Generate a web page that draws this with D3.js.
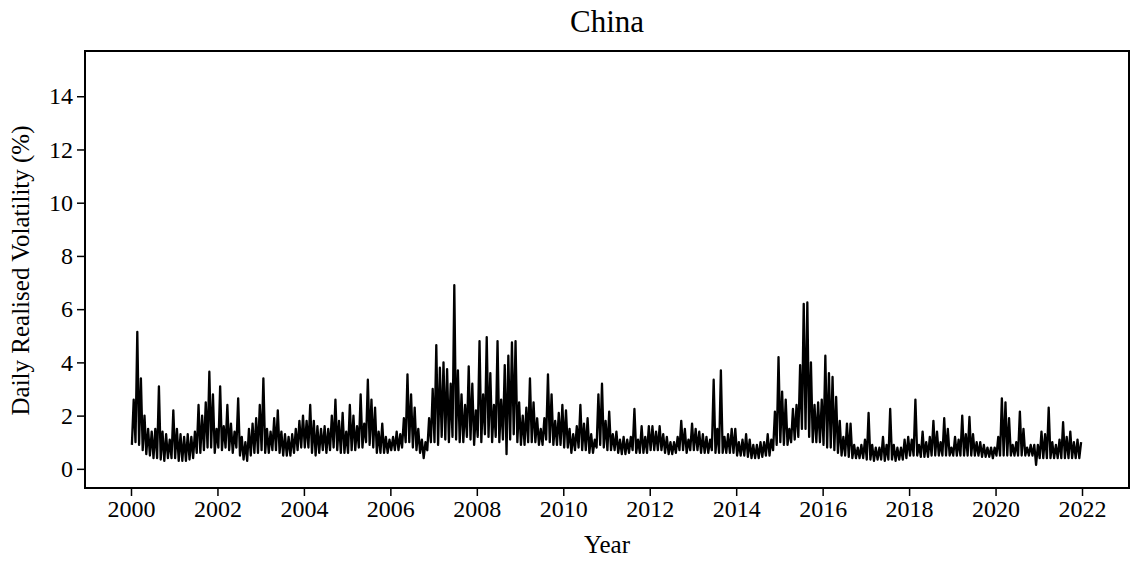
<!DOCTYPE html>
<html>
<head>
<meta charset="utf-8">
<script src="https://cdn.jsdelivr.net/npm/d3@7"></script>
<style>
  html, body { margin: 0; padding: 0; background: #fff; }
  svg text { font-family: "Liberation Serif", "Times New Roman", serif; fill: #000; }
</style>
</head>
<body>
<div id="chart"></div>
<script>
// Monthly highs / lows of the daily series (Jan..Dec per row)
var years = d3.range(2000, 2022);
var monthlyPeaks = [
  [2.6, 5.15, 3.4, 2.0, 1.5, 1.4, 1.5, 3.1, 1.4, 1.3, 1.1, 2.2],   // 2000
  [1.5, 1.3, 1.2, 1.3, 1.2, 1.4, 2.4, 2.0, 2.5, 3.65, 2.8, 1.5],   // 2001
  [3.1, 1.6, 2.4, 1.7, 1.4, 2.65, 1.2, 1.0, 1.5, 1.7, 1.9, 2.4],   // 2002
  [3.4, 1.5, 1.4, 1.9, 2.2, 1.4, 1.3, 1.2, 1.3, 1.5, 1.8, 2.0],    // 2003
  [1.8, 2.4, 1.8, 1.6, 1.5, 1.6, 1.5, 2.0, 2.6, 1.8, 2.1, 1.4],    // 2004
  [2.4, 2.0, 1.6, 2.8, 1.7, 3.35, 2.6, 2.3, 1.4, 1.7, 1.2, 1.1],   // 2005
  [1.2, 1.4, 1.3, 1.9, 3.55, 2.8, 2.3, 1.5, 1.1, 1.0, 1.9, 3.0],   // 2006
  [4.65, 3.8, 4.0, 3.75, 3.2, 6.9, 3.7, 2.8, 2.4, 3.85, 3.2, 2.2], // 2007
  [4.8, 2.8, 4.95, 3.6, 2.4, 4.8, 2.6, 3.9, 4.25, 4.75, 4.8, 2.5], // 2008
  [2.0, 2.3, 3.4, 2.5, 1.9, 1.5, 1.9, 3.55, 2.8, 1.8, 2.1, 2.4],   // 2009
  [2.2, 1.5, 1.3, 1.6, 2.4, 1.7, 1.9, 1.3, 1.1, 2.8, 3.2, 1.8],    // 2010
  [2.15, 1.3, 1.4, 1.1, 1.2, 1.1, 1.2, 2.25, 1.1, 1.6, 1.2, 1.6],  // 2011
  [1.6, 1.4, 1.6, 1.3, 1.2, 1.0, 1.0, 1.2, 1.8, 1.5, 1.1, 1.7],    // 2012
  [1.5, 1.4, 1.3, 1.2, 1.1, 3.35, 1.5, 3.7, 1.2, 1.3, 1.5, 1.5],   // 2013
  [1.0, 1.1, 1.3, 1.1, 0.9, 0.9, 1.0, 1.0, 1.3, 1.1, 2.15, 4.2],   // 2014
  [2.9, 2.6, 1.5, 2.25, 2.4, 3.9, 6.2, 6.25, 4.0, 2.4, 2.5, 2.6],  // 2015
  [4.25, 3.6, 3.45, 2.7, 1.8, 1.2, 1.7, 1.7, 0.9, 0.8, 0.9, 1.1],  // 2016
  [2.1, 0.9, 0.8, 0.8, 1.2, 0.9, 2.25, 0.9, 0.8, 0.8, 1.1, 1.2],   // 2017
  [1.1, 2.6, 0.9, 1.4, 1.0, 1.2, 1.8, 1.4, 1.0, 1.9, 1.5, 0.8],    // 2018
  [1.2, 1.1, 2.0, 1.3, 1.95, 1.3, 1.0, 1.0, 0.9, 0.8, 0.8, 0.8],   // 2019
  [1.2, 2.65, 2.5, 1.9, 0.9, 1.0, 2.15, 1.5, 0.8, 0.9, 0.9, 0.9],  // 2020
  [1.4, 1.3, 2.3, 1.0, 0.9, 1.1, 1.75, 1.2, 1.4, 1.0, 1.1, 1.0]    // 2021
];
var monthlyLows = [
  [0.9, 1.0, 0.9, 0.7, 0.55, 0.5, 0.4, 0.4, 0.35, 0.3, 0.4, 0.4],  // 2000
  [0.4, 0.3, 0.3, 0.3, 0.35, 0.4, 0.6, 0.6, 0.7, 0.8, 0.8, 0.6],   // 2001
  [0.8, 0.7, 0.8, 0.7, 0.6, 0.8, 0.5, 0.35, 0.3, 0.5, 0.6, 0.6],   // 2002
  [0.7, 0.6, 0.6, 0.7, 0.7, 0.6, 0.5, 0.5, 0.5, 0.6, 0.7, 0.8],    // 2003
  [0.8, 0.8, 0.6, 0.5, 0.6, 0.7, 0.6, 0.7, 0.8, 0.7, 0.6, 0.6],    // 2004
  [0.6, 0.7, 0.7, 0.8, 0.8, 1.0, 0.9, 0.8, 0.6, 0.6, 0.6, 0.6],    // 2005
  [0.7, 0.7, 0.7, 0.8, 1.0, 1.0, 0.8, 0.7, 0.6, 0.4, 0.7, 1.0],    // 2006
  [1.0, 0.9, 1.2, 1.1, 1.0, 1.2, 1.1, 1.0, 1.0, 1.2, 1.1, 0.9],    // 2007
  [1.2, 1.0, 1.3, 1.2, 1.0, 1.2, 1.0, 1.1, 0.55, 1.1, 1.3, 1.0],   // 2008
  [0.9, 0.9, 1.0, 1.0, 1.0, 0.9, 0.9, 1.1, 1.0, 0.9, 0.9, 0.9],    // 2009
  [0.8, 0.8, 0.6, 0.7, 0.8, 0.7, 0.7, 0.6, 0.6, 0.8, 0.9, 0.8],    // 2010
  [0.7, 0.7, 0.7, 0.6, 0.55, 0.55, 0.6, 0.7, 0.6, 0.6, 0.6, 0.6],  // 2011
  [0.7, 0.7, 0.7, 0.7, 0.6, 0.55, 0.55, 0.6, 0.7, 0.7, 0.6, 0.7],  // 2012
  [0.7, 0.7, 0.6, 0.6, 0.6, 0.7, 0.6, 0.6, 0.6, 0.6, 0.6, 0.6],    // 2013
  [0.5, 0.5, 0.5, 0.45, 0.4, 0.4, 0.4, 0.45, 0.5, 0.5, 0.7, 0.9],  // 2014
  [1.0, 0.9, 0.9, 1.0, 1.1, 1.2, 1.5, 1.5, 1.2, 1.0, 1.0, 1.0],    // 2015
  [0.9, 0.8, 0.8, 0.7, 0.6, 0.5, 0.5, 0.45, 0.4, 0.4, 0.4, 0.4],   // 2016
  [0.35, 0.35, 0.3, 0.35, 0.35, 0.3, 0.35, 0.35, 0.3, 0.35, 0.35, 0.4], // 2017
  [0.5, 0.5, 0.5, 0.45, 0.45, 0.45, 0.5, 0.5, 0.5, 0.5, 0.5, 0.5], // 2018
  [0.5, 0.5, 0.5, 0.5, 0.5, 0.5, 0.5, 0.5, 0.45, 0.45, 0.45, 0.4], // 2019
  [0.5, 0.5, 0.5, 0.5, 0.5, 0.5, 0.5, 0.5, 0.5, 0.5, 0.5, 0.15],   // 2020
  [0.4, 0.4, 0.4, 0.4, 0.4, 0.4, 0.4, 0.4, 0.4, 0.4, 0.4, 0.4]     // 2021
];
var xTicks = d3.range(2000, 2023, 2);
var yTicks = d3.range(0, 15, 2);

var width = 1130, height = 562;
var frame = {left: 85, right: 1129, top: 51, bottom: 488};

// build the series: each month goes low -> high
var series = [];
years.forEach(function(yr, i) {
  for (var m = 0; m < 12; m++) {
    series.push({t: yr + (m + 0.25) / 12, v: monthlyLows[i][m]});
    series.push({t: yr + (m + 0.75) / 12, v: monthlyPeaks[i][m]});
  }
});

var x = d3.scaleLinear().domain([1998.936, 2023.087]).range([frame.left, frame.right]);
var y = d3.scaleLinear().domain([-0.72, 15.7]).range([frame.bottom, frame.top]);

var svg = d3.select("#chart").append("svg")
  .attr("width", width)
  .attr("height", height);

svg.append("path")
  .datum(series)
  .attr("fill", "none")
  .attr("stroke", "#000")
  .attr("stroke-width", 2.3)
  .attr("stroke-linejoin", "round")
  .attr("d", d3.line().x(function(d) { return x(d.t); }).y(function(d) { return y(d.v); }));

// frame
svg.append("rect")
  .attr("x", frame.left)
  .attr("y", frame.top)
  .attr("width", frame.right - frame.left)
  .attr("height", frame.bottom - frame.top)
  .attr("fill", "none")
  .attr("stroke", "#000")
  .attr("stroke-width", 2);

var xAxis = svg.append("g")
  .attr("transform", "translate(0," + (frame.bottom + 1) + ")")
  .call(d3.axisBottom(x).tickValues(xTicks).tickFormat(d3.format("d")).tickSize(7).tickPadding(4));
var yAxis = svg.append("g")
  .attr("transform", "translate(" + (frame.left - 1) + ",0)")
  .call(d3.axisLeft(y).tickValues(yTicks).tickSize(7).tickPadding(4));

[xAxis, yAxis].forEach(function(g) {
  g.select(".domain").remove();
  g.selectAll(".tick line").attr("stroke", "#000").attr("stroke-width", 1.5);
  g.selectAll(".tick text")
    .style("font-family", "'Liberation Serif', 'Times New Roman', serif")
    .style("font-size", "24px")
    .attr("fill", "#000");
});

svg.append("text")
  .attr("x", (frame.left + frame.right) / 2)
  .attr("y", 32)
  .attr("text-anchor", "middle")
  .style("font-size", "31px")
  .text("China");

svg.append("text")
  .attr("x", (frame.left + frame.right) / 2)
  .attr("y", 553)
  .attr("text-anchor", "middle")
  .style("font-size", "25px")
  .text("Year");

svg.append("text")
  .attr("transform", "translate(29," + ((frame.top + frame.bottom) / 2 + 1) + ") rotate(-90)")
  .attr("text-anchor", "middle")
  .style("font-size", "25px")
  .text("Daily Realised Volatility (%)");
</script>
</body>
</html>
